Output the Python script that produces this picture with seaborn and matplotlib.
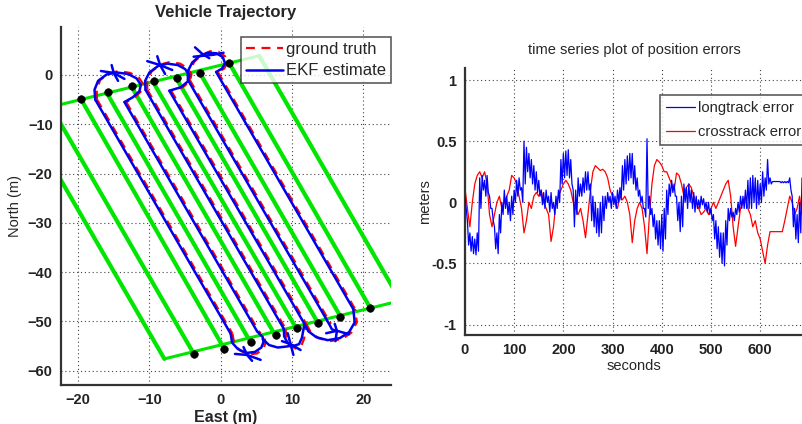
import numpy as np
import pandas as pd
import matplotlib
matplotlib.use("Agg")
import matplotlib.pyplot as plt
import seaborn as sns

sns.set_theme(style="white")
plt.rcParams['font.family'] = ['Liberation Sans', 'DejaVu Sans']

# ---- survey lanes (end points, metres East / North) ----
lane_top_e = [-27.8, -23.8, -19.6, -16.0, -12.5, -9.5, -6.3, -3.0, 1.2, 5.4]
lane_top_n = [-7.9, -6.5, -4.9, -3.6, -2.4, -1.4, -0.5, 0.6, 2.4, 3.9]
lane_bot_e = [-7.9, -3.8, 0.4, 4.1, 7.6, 10.6, 13.6, 16.8, 21.0, 25.2]
lane_bot_n = [-57.6, -56.5, -55.3, -54.0, -52.7, -51.4, -50.2, -49.0, -47.3, -45.8]

# ---- waypoints ----
wp_e = [-19.6, -15.8, -12.5, -9.3, -6.2, -2.9, 1.2,
        -3.7, 0.5, 4.2, 7.7, 10.7, 13.6, 16.8, 20.9]
wp_n = [-4.8, -3.4, -2.3, -1.3, -0.6, 0.4, 2.4,
        -56.6, -55.6, -54.1, -52.8, -51.4, -50.3, -49.1, -47.3]

# ---- EKF estimate: straight legs (top -> bottom) ----
ekf_leg_top_e = [-17.6, -13.5, -10.55, -7.2, -4.6, -0.64]
ekf_leg_top_n = [-5.0, -5.5, -3.0, -3.2, -1.0, 0.6]
ekf_leg_bot_e = [1.4, 5.1, 8.85, 11.75, 15.2, 18.6]
ekf_leg_bot_n = [-52.5, -52.0, -51.5, -50.5, -50.5, -47.5]

# ---- EKF estimate: turns and GPS-fix jumps ----
ekf_turns = {
    "T1": ([-17.6, -17.7, -17.2, -16.0, -14.6, -13.0, -11.8, -11.2, -11.4, -12.3, -13.5],
           [-5.0, -3.0, -1.2, 0.1, 0.5, 0.2, -0.7, -2.0, -3.3, -4.5, -5.5]),
    "T2": ([-10.55, -10.6, -10.0, -8.8, -7.5, -6.0, -5.0, -4.4, -4.6, -5.6, -7.2],
           [-3.0, -1.2, 0.5, 1.8, 2.3, 2.0, 1.2, 0.0, -1.3, -2.5, -3.2]),
    "T3": ([-4.6, -4.6, -4.0, -3.0, -1.8, -0.6, 0.3, 0.6, 0.2, -0.64],
           [-1.0, 0.8, 2.5, 3.8, 4.5, 4.4, 3.6, 2.4, 1.3, 0.6]),
    "B1": ([1.4, 1.6, 2.4, 3.6, 4.8, 5.7, 6.0, 5.9, 5.1],
           [-52.5, -54.3, -55.6, -56.4, -56.2, -55.3, -54.2, -53.2, -52.0]),
    "B1b": ([5.9, 6.8, 8.0, 9.2, 10.2],
            [-53.6, -54.8, -55.3, -55.1, -54.9]),
    "B2": ([8.85, 8.9, 9.4, 10.2, 11.0, 11.4, 11.75],
           [-51.5, -53.0, -54.4, -55.0, -54.6, -53.3, -50.5]),
    "B3": ([11.75, 12.3, 13.4, 15.0, 16.7, 18.0, 18.8, 18.6],
           [-50.5, -52.0, -53.2, -53.8, -53.4, -52.2, -50.2, -47.5]),
    "B3b": ([15.2, 15.6, 16.3],
            [-50.5, -51.6, -52.0]),
    "X1a": ([-16.8, -15.0, -13.5], [0.8, 0.4, -0.8]),
    "X1b": ([-15.3, -15.0, -14.4], [2.0, 0.4, -1.2]),
    "X2a": ([-10.3, -8.5, -6.8], [2.8, 2.0, 1.0]),
    "X2b": ([-8.9, -8.5, -7.8], [3.8, 2.0, 0.2]),
    "X3a": ([-3.6, -2.6, -1.6], [5.6, 4.3, 3.4]),
    "X3b": ([-3.8, -1.0, 0.4], [3.7, 4.1, 4.5]),
    "X4a": ([2.0, 3.7, 5.6], [-56.6, -56.8, -57.8]),
    "X4b": ([3.2, 3.7, 4.4], [-55.2, -56.8, -58.0]),
    "X5a": ([8.6, 9.8, 11.2], [-54.0, -54.6, -55.8]),
    "X5b": ([9.4, 9.8, 10.2], [-52.4, -54.6, -56.8]),
    "X6a": ([14.8, 16.3, 18.0], [-52.4, -51.9, -52.6]),
    "X6b": ([16.0, 16.3, 16.1], [-50.5, -51.9, -54.0]),
}

# ---- ground truth: legs and turns ----
gt_leg_top_e = [-17.35, -13.25, -10.3, -6.95, -4.35, -0.4]
gt_leg_top_n = [-5.0, -5.5, -3.0, -3.2, -1.0, 0.6]
gt_leg_bot_e = [1.65, 5.35, 9.1, 12.0, 15.45, 18.85]
gt_leg_bot_n = [-52.5, -52.0, -51.5, -50.5, -50.5, -47.5]
gt_turns = {
    "T1": ([-17.35, -17.4, -16.9, -15.7, -14.3, -12.7, -11.5, -10.9, -11.1, -12.0, -13.25],
           [-5.0, -3.0, -1.0, 0.3, 0.8, 0.4, -0.5, -1.8, -3.2, -4.5, -5.5]),
    "T2": ([-10.3, -10.3, -9.7, -8.5, -7.2, -5.7, -4.7, -4.1, -4.3, -5.3, -6.95],
           [-3.0, -1.0, 0.7, 2.1, 2.6, 2.3, 1.4, 0.2, -1.2, -2.5, -3.2]),
    "T3": ([-4.35, -4.3, -3.7, -2.7, -1.5, -0.3, 0.6, 0.9, 0.5, -0.4],
           [-1.0, 0.9, 2.7, 4.0, 4.8, 4.7, 3.8, 2.5, 1.3, 0.6]),
    "B1": ([1.65, 1.9, 2.7, 3.9, 5.1, 6.0, 6.3, 6.1, 5.35],
           [-52.5, -54.5, -55.9, -56.7, -56.5, -55.5, -54.3, -53.2, -52.0]),
    "B2": ([9.1, 9.2, 9.7, 10.5, 11.3, 11.7, 12.0],
           [-51.5, -53.2, -54.8, -55.5, -55.0, -53.5, -50.5]),
    "B3": ([12.0, 12.6, 13.7, 15.3, 17.0, 18.3, 19.1, 18.85],
           [-50.5, -52.1, -53.4, -54.0, -53.6, -52.3, -50.2, -47.5]),
}

# ---- position errors vs time (5 s samples) ----
t_s = list(range(0, 690, 5))
long_hi = [0.05, -0.15, -0.25, -0.28, -0.30, -0.25, 0.20, 0.22, 0.18, 0.22,
           0.05, -0.05, -0.20, -0.25, -0.10, 0.00, 0.10, 0.05, 0.00, 0.05,
           0.10, 0.18, 0.20, 0.12, 0.50, 0.45, 0.40, 0.35, 0.30, 0.25,
           0.18, 0.10, 0.08, 0.10, 0.05, 0.08, 0.00, 0.05, 0.10, 0.35,
           0.40, 0.42, 0.43, 0.35, 0.10, 0.10, 0.20, 0.15, 0.20, 0.25,
           0.25, 0.15, 0.05, 0.00, -0.05, 0.00, 0.05, 0.05, 0.08, 0.05,
           0.08, 0.05, 0.10, 0.12, 0.30, 0.35, 0.38, 0.40, 0.40, 0.30,
           0.20, 0.10, 0.05, -0.05, 0.52, 0.05, -0.05, -0.10, -0.15, -0.15,
           -0.10, -0.05, 0.10, 0.15, 0.18, 0.15, 0.05, 0.00, 0.05, 0.15,
           0.12, 0.15, 0.10, 0.08, 0.05, 0.02, 0.05, 0.03, 0.00, 0.00,
           -0.05, -0.10, -0.15, -0.20, -0.25, -0.25, -0.15, -0.05, -0.05, -0.08,
           -0.05, 0.00, 0.05, 0.05, 0.10, 0.18, 0.20, 0.22, 0.20, 0.18,
           0.15, 0.25, 0.20, 0.35, 0.20, 0.17, 0.17, 0.17, 0.17, 0.17,
           0.17, 0.17, 0.20, 0.05, -0.05, -0.10, 0.00, 0.20]
long_lo = [-0.05, -0.35, -0.40, -0.42, -0.43, -0.40, -0.05, 0.10, 0.05, 0.08,
           -0.05, -0.15, -0.38, -0.42, -0.25, -0.10, -0.05, -0.10, -0.15, -0.10,
           0.00, 0.05, 0.10, 0.00, 0.15, 0.25, 0.20, 0.15, 0.10, 0.08,
           0.05, -0.02, -0.05, 0.00, -0.08, -0.05, -0.10, -0.05, 0.00, 0.15,
           0.20, 0.22, 0.20, 0.15, -0.20, -0.10, 0.05, 0.05, 0.08, 0.10,
           0.10, -0.15, -0.20, -0.25, -0.28, -0.25, -0.15, -0.05, 0.00, -0.05,
           -0.02, -0.05, 0.00, 0.02, 0.10, 0.15, 0.18, 0.20, 0.15, 0.10,
           0.05, 0.00, -0.05, -0.12, -0.05, -0.10, -0.20, -0.30, -0.35, -0.38,
           -0.40, -0.30, -0.10, 0.05, 0.08, 0.05, -0.15, -0.24, -0.20, 0.00,
           -0.05, 0.00, -0.05, -0.08, -0.05, -0.05, -0.02, -0.05, -0.08, -0.10,
           -0.15, -0.30, -0.38, -0.45, -0.50, -0.52, -0.35, -0.15, -0.12, -0.15,
           -0.10, -0.08, -0.05, -0.05, -0.05, -0.05, -0.05, 0.00, -0.05, -0.02,
           0.00, 0.05, 0.10, 0.15, 0.15, 0.17, 0.17, 0.17, 0.16, 0.16,
           0.16, 0.16, 0.10, -0.20, -0.30, -0.33, -0.25, -0.10]
cross = [0.12, -0.05, -0.20, 0.00, 0.15, 0.22, 0.25, 0.20, 0.25, 0.15,
         -0.10, -0.20, -0.10, 0.00, 0.05, -0.05, 0.00, 0.05, 0.10, 0.22,
         0.20, 0.15, 0.05, -0.05, -0.25, -0.15, 0.00, -0.05, 0.05, 0.08,
         0.05, 0.10, 0.00, -0.05, -0.10, -0.32, -0.20, 0.00, 0.05, 0.10,
         0.15, 0.18, 0.15, 0.10, 0.00, -0.05, -0.10, -0.05, -0.15, -0.29,
         -0.10, 0.10, 0.25, 0.30, 0.28, 0.26, 0.27, 0.25, 0.20, 0.10,
         0.05, 0.00, -0.05, 0.05, 0.02, 0.05, 0.00, -0.10, -0.33, -0.15,
         -0.05, 0.00, -0.05, -0.20, -0.42, -0.10, 0.15, 0.30, 0.35, 0.33,
         0.30, 0.25, 0.25, 0.20, 0.15, 0.10, 0.24, 0.22, 0.15, 0.05,
         0.12, 0.15, 0.12, 0.05, 0.00, -0.05, -0.10, -0.08, -0.05, -0.10,
         -0.05, 0.00, -0.05, 0.00, 0.05, 0.10, 0.15, 0.18, 0.05, -0.20,
         -0.36, -0.20, -0.05, 0.00, 0.05, -0.05, -0.10, -0.20, -0.15, -0.25,
         -0.30, -0.40, -0.50, -0.35, -0.24, -0.24, -0.24, -0.24, -0.24, -0.24,
         -0.15, -0.05, 0.05, 0.00, -0.10, -0.05, 0.05, -0.10]

fig = plt.figure(figsize=(8.03, 4.24), dpi=100)
ax1 = fig.add_axes([0.076, 0.092, 0.411, 0.844])
ax2 = fig.add_axes([0.579, 0.210, 0.421, 0.630])

grid_kw = dict(color="#444444", linestyle=(0, (1, 2.5)), linewidth=0.8)


def draw_piece(ax, e, n, **kw):
    seg = pd.DataFrame({"e": e, "n": n})
    sns.lineplot(data=seg, x="e", y="n", sort=False, estimator=None, ax=ax, **kw)


# ---------------- trajectory ----------------
green = dict(color="#00e600", zorder=2)
for i in range(len(lane_top_e)):
    draw_piece(ax1, [lane_top_e[i], lane_bot_e[i]], [lane_top_n[i], lane_bot_n[i]],
               linewidth=3.0, **green)
for side_e, side_n in ((lane_top_e, lane_top_n), (lane_bot_e, lane_bot_n)):
    draw_piece(ax1, [side_e[0], side_e[-1]], [side_n[0], side_n[-1]],
               linewidth=2.2, **green)

red_kw = dict(color="red", linewidth=1.6, linestyle=(0, (4, 3)), zorder=3)
for i in range(len(gt_leg_top_e)):
    draw_piece(ax1, [gt_leg_top_e[i], gt_leg_bot_e[i]],
               [gt_leg_top_n[i], gt_leg_bot_n[i]], **red_kw)
for e, n in gt_turns.values():
    draw_piece(ax1, e, n, **red_kw)

blue_kw = dict(color="#0000ee", linewidth=1.8, zorder=4)
for i in range(len(ekf_leg_top_e)):
    draw_piece(ax1, [ekf_leg_top_e[i], ekf_leg_bot_e[i]],
               [ekf_leg_top_n[i], ekf_leg_bot_n[i]], **blue_kw)
for e, n in ekf_turns.values():
    draw_piece(ax1, e, n, **blue_kw)

sns.scatterplot(x=wp_e, y=wp_n, color="black", s=30, edgecolor="black",
                ax=ax1, zorder=5, legend=False)

ax1.set_xlim(-22.4, 23.9)
ax1.set_ylim(-62.9, 9.7)
ax1.set_xticks([-20, -10, 0, 10, 20])
ax1.set_yticks([0, -10, -20, -30, -40, -50, -60])
ax1.grid(True, **grid_kw)
ax1.set_title("Vehicle Trajectory", fontsize=12, fontweight="bold", pad=7)
ax1.set_xlabel("East (m)", fontsize=11.5, fontweight="bold", labelpad=2)
ax1.set_ylabel("North (m)", fontsize=10.5, labelpad=4)
handles = [plt.Line2D([], [], color="red", linewidth=1.6, linestyle=(0, (4, 3))),
           plt.Line2D([], [], color="#0000ee", linewidth=1.8)]
leg1 = ax1.legend(handles, ["ground truth", "EKF estimate"],
                  loc="upper right", bbox_to_anchor=(1.0, 0.972),
                  fontsize=12, frameon=True, fancybox=False,
                  edgecolor="#333333", borderpad=0.3, handlelength=2.2,
                  handletextpad=0.2, labelspacing=0.38, borderaxespad=0)
leg1.get_frame().set_linewidth(1.2)
leg1.set_zorder(10)

# ---------------- error time series ----------------
zig_t, zig_v = [], []
for k, t in enumerate(t_s):
    zig_t += [t, t + 2.5]
    zig_v += [long_hi[k], long_lo[k]]
sns.lineplot(x=zig_t, y=zig_v, sort=False, estimator=None, color="#0000ff",
             linewidth=0.9, ax=ax2, label="longtrack error", zorder=3)
sns.lineplot(x=t_s, y=cross, sort=False, estimator=None, color="#ff0000",
             linewidth=0.9, ax=ax2, label="crosstrack error", zorder=2)

ax2.set_xlim(0, 687)
ax2.set_ylim(-1.085, 1.1)
ax2.set_xticks([0, 100, 200, 300, 400, 500, 600])
ax2.set_yticks([-1, -0.5, 0, 0.5, 1])
ax2.set_yticklabels(["-1", "-0.5", "0", "0.5", "1"])
ax2.grid(True, **grid_kw)
ax2.set_title("time series plot of position errors", fontsize=10.5, pad=10)
ax2.set_xlabel("seconds", fontsize=10.5, labelpad=1)
ax2.set_ylabel("meters", fontsize=10.5, labelpad=-1)
leg2 = ax2.legend(loc="upper left", bbox_to_anchor=(0.577, 0.899),
                  fontsize=10.6, frameon=True, fancybox=False,
                  edgecolor="#333333", borderpad=0.4, handlelength=2.0,
                  handletextpad=0.2, labelspacing=0.7, borderaxespad=0)
leg2.get_frame().set_linewidth(1.2)

for ax in (ax1, ax2):
    for side in ("top", "right"):
        ax.spines[side].set_visible(False)
    for side in ("left", "bottom"):
        ax.spines[side].set_color("#333333")
        ax.spines[side].set_linewidth(1.6)
    ax.tick_params(axis="both", which="both", length=3, width=1.0,
                   direction="in", pad=6, colors="#222222")
    for lbl in ax.get_xticklabels() + ax.get_yticklabels():
        lbl.set_fontsize(10.5)
        lbl.set_fontweight("bold")

fig.savefig("out.png", dpi=100)
